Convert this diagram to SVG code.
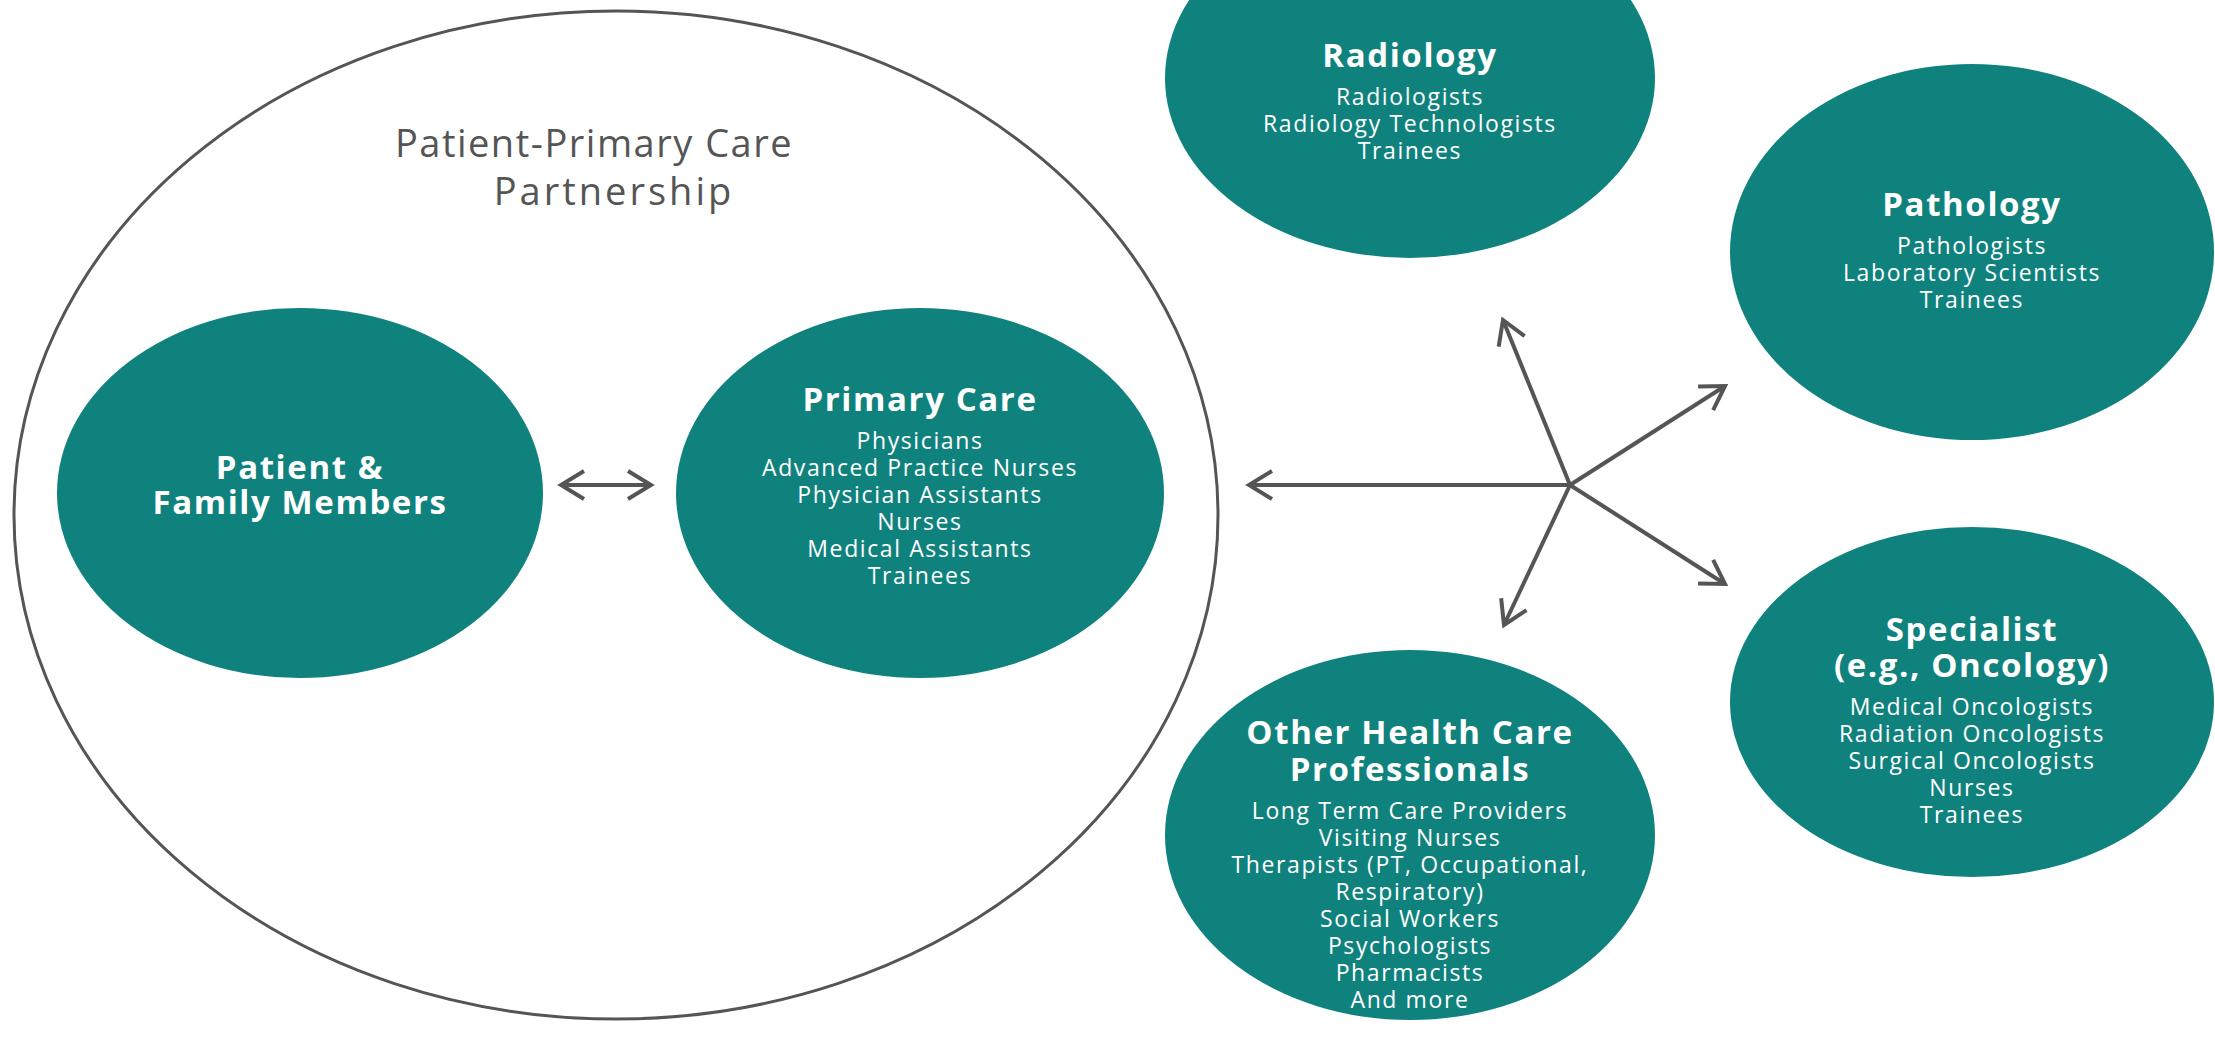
<svg xmlns="http://www.w3.org/2000/svg" width="2215" height="1037" viewBox="0 0 2215 1037">
  <style>
    .node { fill: #10827e; }
    .title { font-family: "Open Sans", "Liberation Sans", sans-serif; font-weight: 700; font-size: 33px; letter-spacing: 1.6px; fill: #ffffff; text-anchor: middle; }
    .item { font-family: "Open Sans", "Liberation Sans", sans-serif; font-size: 23px; letter-spacing: 1.6px; fill: #ffffff; text-anchor: middle; }
    .group-label { font-family: "Open Sans", "Liberation Sans", sans-serif; font-size: 38px; letter-spacing: 1.5px; fill: #555555; text-anchor: middle; }
    .group-label.wide { letter-spacing: 3px; }
    .link { stroke: #555555; stroke-width: 4; fill: none; stroke-linecap: butt; }
  </style>
  <defs>
    <!-- open chevron head, drawn in user units so all arrows share one size -->
    <marker id="chev" viewBox="-28 -18 32 36" refX="0" refY="0" markerWidth="32" markerHeight="36" markerUnits="userSpaceOnUse" orient="auto-start-reverse">
      <path d="M -23 -14 L 0 0 L -23 14" fill="none" stroke="#555555" stroke-width="4" stroke-linejoin="miter"/>
    </marker>
  </defs>
  <rect width="2215" height="1037" fill="#ffffff"/>

  <!-- partnership boundary -->
  <g id="partnership">
    <ellipse cx="616" cy="515" rx="602" ry="504" fill="none" stroke="#555555" stroke-width="3"/>
    <text class="group-label" x="594" y="157">Patient-Primary Care</text>
    <text class="group-label wide" x="614" y="205">Partnership</text>
  </g>

  <g id="patient-family">
    <ellipse class="node" cx="300" cy="493" rx="243" ry="185"/>
    <text class="title" x="300" y="479">Patient &amp;</text>
    <text class="title" x="300" y="514">Family Members</text>
  </g>

  <g id="primary-care">
    <ellipse class="node" cx="920" cy="493" rx="244" ry="185"/>
    <text class="title" x="920" y="411">Primary Care</text>
    <text class="item" x="920" y="449">Physicians</text>
    <text class="item" x="920" y="476">Advanced Practice Nurses</text>
    <text class="item" x="920" y="503">Physician Assistants</text>
    <text class="item" x="920" y="530">Nurses</text>
    <text class="item" x="920" y="557">Medical Assistants</text>
    <text class="item" x="920" y="584">Trainees</text>
  </g>

  <g id="radiology">
    <ellipse class="node" cx="1410" cy="78" rx="245" ry="180"/>
    <text class="title" x="1410" y="67">Radiology</text>
    <text class="item" x="1410" y="105">Radiologists</text>
    <text class="item" x="1410" y="132">Radiology Technologists</text>
    <text class="item" x="1410" y="159">Trainees</text>
  </g>

  <g id="pathology">
    <ellipse class="node" cx="1972" cy="252" rx="242" ry="188"/>
    <text class="title" x="1972" y="216">Pathology</text>
    <text class="item" x="1972" y="254">Pathologists</text>
    <text class="item" x="1972" y="281">Laboratory Scientists</text>
    <text class="item" x="1972" y="308">Trainees</text>
  </g>

  <g id="specialist">
    <ellipse class="node" cx="1972" cy="702" rx="242" ry="175"/>
    <text class="title" x="1972" y="641">Specialist</text>
    <text class="title" x="1972" y="677">(e.g., Oncology)</text>
    <text class="item" x="1972" y="715">Medical Oncologists</text>
    <text class="item" x="1972" y="742">Radiation Oncologists</text>
    <text class="item" x="1972" y="769">Surgical Oncologists</text>
    <text class="item" x="1972" y="796">Nurses</text>
    <text class="item" x="1972" y="823">Trainees</text>
  </g>

  <g id="other-professionals">
    <ellipse class="node" cx="1410" cy="835" rx="245" ry="185"/>
    <text class="title" x="1410" y="744">Other Health Care</text>
    <text class="title" x="1410" y="781">Professionals</text>
    <text class="item" x="1410" y="819">Long Term Care Providers</text>
    <text class="item" x="1410" y="846">Visiting Nurses</text>
    <text class="item" x="1410" y="873">Therapists (PT, Occupational,</text>
    <text class="item" x="1410" y="900">Respiratory)</text>
    <text class="item" x="1410" y="927">Social Workers</text>
    <text class="item" x="1410" y="954">Psychologists</text>
    <text class="item" x="1410" y="981">Pharmacists</text>
    <text class="item" x="1410" y="1008">And more</text>
  </g>

  <!-- connectors -->
  <g id="connectors">
    <line class="link" x1="561" y1="485" x2="651" y2="485" marker-start="url(#chev)" marker-end="url(#chev)"/>
    <line class="link" x1="1570" y1="485" x2="1249" y2="485" marker-end="url(#chev)"/>
    <line class="link" x1="1570" y1="485" x2="1503" y2="320" marker-end="url(#chev)"/>
    <line class="link" x1="1570" y1="485" x2="1725" y2="386" marker-end="url(#chev)"/>
    <line class="link" x1="1570" y1="485" x2="1725" y2="584" marker-end="url(#chev)"/>
    <line class="link" x1="1570" y1="485" x2="1504" y2="625" marker-end="url(#chev)"/>
  </g>
</svg>
